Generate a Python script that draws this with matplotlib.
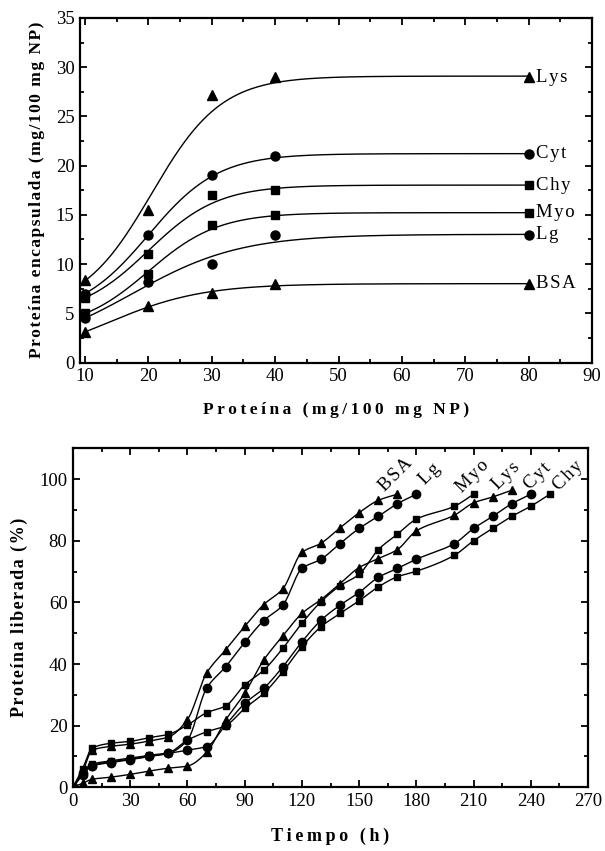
import numpy as np
import matplotlib
matplotlib.use("Agg")
import matplotlib.pyplot as plt
from matplotlib.ticker import MultipleLocator

# ---------------- data: encapsulation (top panel) ----------------
prot_x = [10, 20, 30, 40, 80]
enc_names = ["Lys", "Cyt", "Chy", "Myo", "Lg", "BSA"]
enc_markers = ["^", "o", "s", "s", "o", "^"]
lys_enc = [8.4, 15.5, 27.2, 29.0, 29.0]
cyt_enc = [7.0, 13.0, 19.0, 21.0, 21.2]
chy_enc = [6.6, 11.0, 17.0, 17.5, 18.0]
myo_enc = [5.0, 9.0, 14.0, 15.0, 15.2]
lg_enc = [4.5, 8.2, 10.0, 13.0, 13.0]
bsa_enc = [3.1, 5.7, 7.1, 8.0, 8.0]
enc_values = [lys_enc, cyt_enc, chy_enc, myo_enc, lg_enc, bsa_enc]

# ---------------- data: release (bottom panel) ----------------
rel_names = ["BSA", "Lg", "Myo", "Lys", "Cyt", "Chy"]
rel_markers = ["^", "o", "s", "^", "o", "s"]
t_bsa = [0, 5, 10, 20, 30, 40, 50, 60, 70, 80, 90, 100, 110, 120, 130, 140, 150, 160, 170]
v_bsa = [0, 5.0, 12.0, 13.3, 14.0, 15.0, 16.3, 22.0, 37.0, 44.6, 52.2, 59.3, 64.4, 76.2, 79.2, 84.2, 89.1, 93.1, 95.1]
t_lg = [0, 5, 10, 20, 30, 40, 50, 60, 70, 80, 90, 100, 110, 120, 130, 140, 150, 160, 170, 180]
v_lg = [0, 4.5, 7.0, 8.0, 9.0, 10.0, 11.0, 15.3, 32.1, 39.1, 47.0, 54.1, 59.1, 71.0, 74.0, 79.1, 84.0, 87.9, 92.0, 95.1]
t_myo = [0, 5, 10, 20, 30, 40, 50, 60, 70, 80, 90, 100, 110, 120, 130, 140, 150, 160, 170, 180, 200, 210]
v_myo = [0, 6.0, 12.7, 14.3, 14.9, 16.1, 17.2, 20.2, 24.2, 26.4, 33.2, 38.0, 45.1, 53.2, 60.2, 65.4, 69.1, 77.1, 82.1, 87.0, 91.2, 95.1]
t_lys = [0, 5, 10, 20, 30, 40, 50, 60, 70, 80, 90, 100, 110, 120, 130, 140, 150, 160, 170, 180, 200, 210, 220, 230]
v_lys = [0, 1.3, 2.6, 3.3, 4.2, 5.3, 6.2, 6.9, 11.3, 21.8, 30.5, 41.3, 49.1, 56.4, 60.9, 66.1, 71.3, 74.2, 77.1, 83.2, 88.3, 92.3, 94.2, 96.4]
t_cyt = [0, 5, 10, 20, 30, 40, 50, 60, 70, 80, 90, 100, 110, 120, 130, 140, 150, 160, 170, 180, 200, 210, 220, 230, 240]
v_cyt = [0, 4.0, 7.0, 8.3, 9.1, 10.1, 11.0, 12.1, 13.2, 20.2, 27.2, 32.1, 39.1, 47.2, 54.2, 59.1, 63.2, 68.1, 71.0, 74.0, 79.1, 84.0, 87.9, 92.0, 95.1]
t_chy = [0, 5, 10, 20, 30, 40, 50, 60, 70, 80, 90, 100, 110, 120, 130, 140, 150, 160, 170, 180, 200, 210, 220, 230, 240, 250]
v_chy = [0, 4.5, 7.5, 8.6, 9.5, 10.4, 11.2, 15.3, 18.0, 20.0, 25.6, 30.5, 37.5, 45.6, 52.1, 56.4, 60.5, 65.0, 68.3, 70.1, 75.3, 80.0, 84.0, 87.9, 91.2, 95.1]
rel_t = [t_bsa, t_lg, t_myo, t_lys, t_cyt, t_chy]
rel_v = [v_bsa, v_lg, v_myo, v_lys, v_cyt, v_chy]

top_xticks = [10, 20, 30, 40, 50, 60, 70, 80, 90]
top_yticks = [0, 5, 10, 15, 20, 25, 30, 35]
bot_xticks = [0, 30, 60, 90, 120, 150, 180, 210, 240, 270]
bot_yticks = [0, 20, 40, 60, 80, 100]

# layout for rotated labels (data coords)
rel_label_pos = [(169.5, 101.5), (187.0, 101.5), (209.5, 101.0), (227.0, 101.0), (243.5, 101.0), (259.5, 101.0)]

SERIF = ["Liberation Serif", "DejaVu Serif"]
plt.rcParams["font.family"] = SERIF
plt.rcParams["mathtext.fontset"] = "stix"

THIN = "\u2009"
HAIR = "\u200a"


def spaced(s, sep=THIN):
    return sep.join(list(s))


def boltz_fit(x, y):
    x = np.asarray(x, float)
    y = np.asarray(y, float)
    w = np.ones_like(x)
    w[0] = 2.0
    w[-1] = 4.0
    best = None
    x0s = np.linspace(-20, 50, 141)
    dxs = np.linspace(5.5, 30, 50)
    for x0 in x0s:
        for dx in dxs:
            s = 1.0 / (1.0 + np.exp((x - x0) / dx))
            A = np.column_stack([s, 1 - s])
            coef, *_ = np.linalg.lstsq(A * w[:, None], y * w, rcond=None)
            err = np.sum(((A @ coef - y) * w) ** 2)
            if best is None or err < best[0]:
                best = (err, x0, dx, coef)
    _, x0, dx, coef = best
    return lambda xx: coef[1] + (coef[0] - coef[1]) / (1 + np.exp((xx - x0) / dx))


def pchip(x, y, xn):
    x = np.asarray(x, float)
    y = np.asarray(y, float)
    h = np.diff(x)
    delta = np.diff(y) / h
    n = len(x)
    d = np.zeros(n)
    for k in range(1, n - 1):
        if delta[k - 1] * delta[k] > 0:
            w1 = 2 * h[k] + h[k - 1]
            w2 = h[k] + 2 * h[k - 1]
            d[k] = (w1 + w2) / (w1 / delta[k - 1] + w2 / delta[k])
    d[0] = delta[0]
    d[-1] = delta[-1]
    idx = np.clip(np.searchsorted(x, xn) - 1, 0, n - 2)
    hh = h[idx]
    tt = (xn - x[idx]) / hh
    h00 = 2 * tt**3 - 3 * tt**2 + 1
    h10 = tt**3 - 2 * tt**2 + tt
    h01 = -2 * tt**3 + 3 * tt**2
    h11 = tt**3 - tt**2
    return h00 * y[idx] + h10 * hh * d[idx] + h01 * y[idx + 1] + h11 * hh * d[idx + 1]


def style_axes(ax):
    for sp in ax.spines.values():
        sp.set_linewidth(1.6)
    ax.tick_params(which="both", direction="in", top=True, right=True, width=1.3,
                   labelsize=13.5, pad=4)
    ax.tick_params(which="major", length=5)
    ax.tick_params(which="minor", length=3)


fig = plt.figure(figsize=(6.05, 8.51), dpi=100)

# ---------------- top panel ----------------
ax1 = fig.add_axes([80 / 605, 1 - 362.5 / 851, (592 - 80) / 605, (362.5 - 18) / 851])
xs = np.linspace(prot_x[0], prot_x[-1], 300)
for name, mk, vals in zip(enc_names, enc_markers, enc_values):
    f = boltz_fit(prot_x, vals)
    ax1.plot(xs, f(xs), color="black", lw=1.0)
    ax1.plot(prot_x, vals, linestyle="none", marker=mk, color="black", ms=6.5 if mk != "s" else 5.5)
    ax1.text(prot_x[-1] + 1.1, vals[-1], spaced(name, HAIR), ha="left", va="center", fontsize=13.5)
ax1.set_xlim(9.2, 90)
ax1.set_ylim(0, 35)
ax1.set_xticks(top_xticks)
ax1.set_yticks(top_yticks)
ax1.xaxis.set_minor_locator(MultipleLocator(5))
ax1.yaxis.set_minor_locator(MultipleLocator(2.5))
style_axes(ax1)
ax1.set_xlabel(spaced("Proteína (mg/100 mg NP)"), fontsize=12.5, fontweight="bold", labelpad=12)
ax1.set_ylabel(spaced("Proteína encapsulada (mg/100 mg NP)", HAIR), fontsize=12.5, fontweight="bold", labelpad=8)

# ---------------- bottom panel ----------------
ax2 = fig.add_axes([73 / 605, 1 - 787.3 / 851, (588 - 73) / 605, (787.3 - 448.3) / 851])
for name, mk, tt, vv, pos in zip(rel_names, rel_markers, rel_t, rel_v, rel_label_pos):
    tn = np.linspace(tt[0], tt[-1], 600)
    ax2.plot(tn, pchip(tt, vv, tn), color="black", lw=1.0)
    ax2.plot(tt, vv, linestyle="none", marker=mk, color="black", ms=6 if mk != "s" else 5)
    ax2.text(pos[0], pos[1], spaced(name, HAIR), rotation=45, ha="center", va="center", fontsize=13.5,
             rotation_mode="anchor")
ax2.set_xlim(0, 270)
ax2.set_ylim(0, 110)
ax2.set_xticks(bot_xticks)
ax2.set_yticks(bot_yticks)
ax2.xaxis.set_minor_locator(MultipleLocator(15))
ax2.yaxis.set_minor_locator(MultipleLocator(10))
style_axes(ax2)
ax2.set_xlabel(spaced("Tiempo (h)"), fontsize=13, fontweight="bold", labelpad=13)
ax2.set_ylabel(spaced("Proteína liberada (%)", HAIR), fontsize=13, fontweight="bold", labelpad=8)

fig.savefig("out.png", dpi=100)
